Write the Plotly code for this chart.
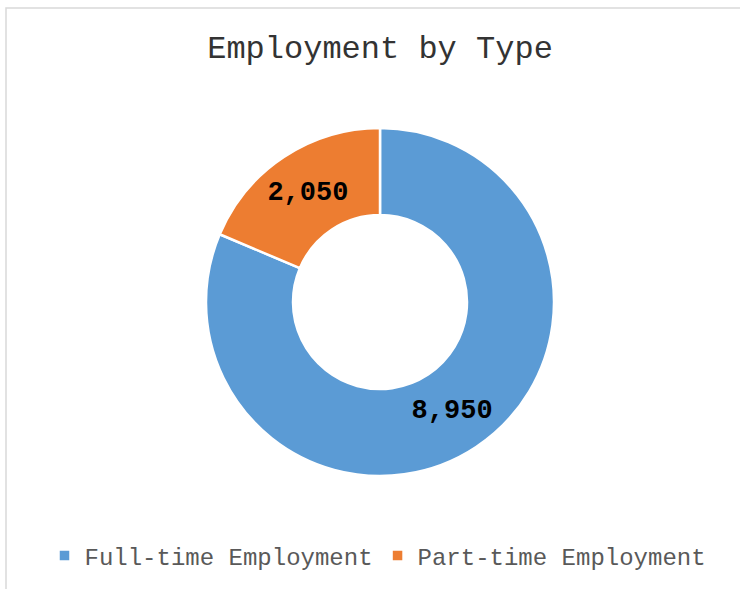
import plotly.graph_objects as go

# Employment counts by type
categories = ["Full-time Employment", "Part-time Employment"]
values = [8950, 2050]
colors = ["#5B9BD5", "#ED7D31"]

W, H = 740, 589
cx, cy, r = 380, 302, 174  # pie centre / radius in pixels

fig = go.Figure(go.Pie(
    labels=categories,
    values=values,
    hole=0.5,
    sort=False,
    direction="clockwise",
    rotation=0,
    marker=dict(colors=colors, line=dict(color="white", width=2.5)),
    texttemplate="%{value:,}",
    textposition="inside",
    insidetextorientation="horizontal",
    textfont=dict(family="Liberation Mono", size=27, color="black", weight="bold"),
    hoverinfo="label+value+percent",
    domain=dict(x=[(cx - r) / W, (cx + r) / W],
                y=[(H - cy - r) / H, (H - cy + r) / H]),
))

fig.update_layout(
    width=W,
    height=H,
    margin=dict(l=0, r=0, t=0, b=0),
    paper_bgcolor="white",
    plot_bgcolor="white",
    title=dict(
        text="Employment by Type",
        x=380 / W, xanchor="center",
        y=1 - 47 / H, yanchor="middle", yref="container",
        font=dict(family="Liberation Mono", size=32, color="#333333"),
    ),
    legend=dict(
        orientation="h",
        x=378 / W, xanchor="center",
        y=1 - 556 / H, yanchor="middle",
        font=dict(family="Liberation Mono", size=24, color="#595959"),
        itemwidth=30,
    ),
    shapes=[dict(type="rect", xref="paper", yref="paper",
                 x0=6 / W, x1=1.05, y0=-0.05, y1=1 - 8 / H,
                 line=dict(color="#D9D9D9", width=1.5), fillcolor="rgba(0,0,0,0)")],
)

# drop the browser's default body margin so the figure sits at the window origin
fig.write_html("out.html", config={"displayModeBar": False},
               post_script="document.body.style.margin = '0';")
